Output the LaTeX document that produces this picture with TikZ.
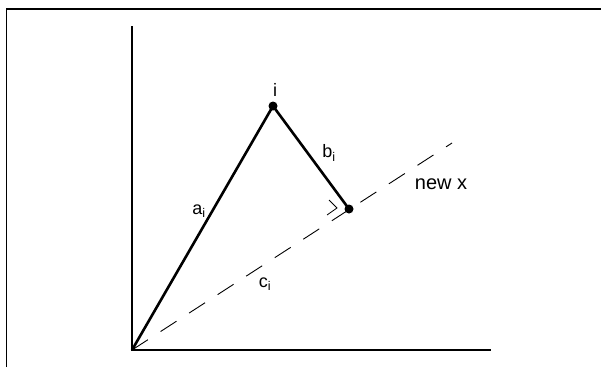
\documentclass[tikz,border=0pt]{standalone}
\usepackage{fontspec}
\setmainfont{Liberation Sans}
\usetikzlibrary{arrows,positioning}

\begin{document}
\begin{tikzpicture}[x=1pt, y=-1pt, semithick,
    font=\fontsize{18}{18}\selectfont,
    axis/.style={line width=2.2pt},
    side/.style={line width=2.6pt},
    dashline/.style={line width=0.9pt, dash pattern=on 19pt off 15pt},
    dot/.style={circle, fill=black, inner sep=0pt, minimum size=9pt}]
    \useasboundingbox (0,0) rectangle (601,367);

    % frame
    \draw[line width=1.8pt] (6.5,367) -- (6.5,9) -- (601,9);

    \coordinate (O) at (132,350);
    \coordinate (ytop) at (132,26);
    \coordinate (xend) at (491,350);
    \coordinate (newx) at (452,143);
    \node[dot] (I) at (273,106) {};
    \node[dot] (F) at (349,209) {};

    % axes
    \draw[axis] (ytop) -- (O) -- (xend);

    \draw[dashline] (O) -- (newx);
    \draw[side] (O) -- (I.center) -- (F.center);

    % right angle
    \draw[line width=0.8pt] ([shift={(-20,-9)}]F.center) -- ++(8,8) -- ++(-10,7);

    \node (ilabel) at (275,90) {i};
    \node (blabel) at (329,153) {b\textsubscript{i}};
    \node (alabel) at (199,211) {a\textsubscript{i}};
    \node (clabel) at (265,284) {c\textsubscript{i}};
    \node[font=\fontsize{20}{20}\selectfont] (xlabel) at (441,184) {new x};
\end{tikzpicture}
\end{document}
